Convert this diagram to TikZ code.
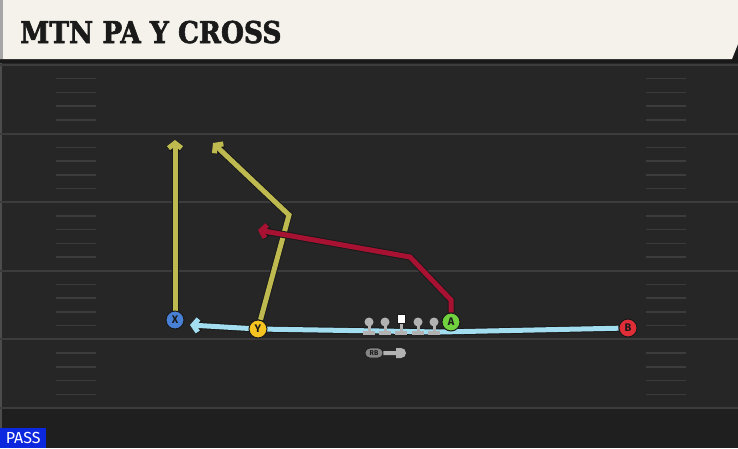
\documentclass[tikz,border=0pt]{standalone}
\usepackage{fontspec}
\usetikzlibrary{arrows.meta,shapes.misc}
\newfontfamily\titlefont{DejaVu Serif}[FakeBold=2, FakeStretch=0.88]
\newfontfamily\labelfont{Fira Sans}

\definecolor{fieldgrey}{RGB}{38,38,38}
\definecolor{linegrey}{RGB}{60,60,60}
\definecolor{barcream}{RGB}{245,242,235}
\definecolor{inkblack}{RGB}{26,26,26}
\definecolor{passblue}{RGB}{12,40,222}
\definecolor{routeyellow}{RGB}{190,186,80}
\definecolor{routered}{RGB}{168,18,50}
\definecolor{motionblue}{RGB}{162,222,240}
\definecolor{xblue}{RGB}{72,128,214}
\definecolor{yyellow}{RGB}{246,196,32}
\definecolor{agreen}{RGB}{112,210,62}
\definecolor{bred}{RGB}{224,46,56}
\definecolor{olgrey}{RGB}{178,178,178}

\pgfdeclarelayer{field}
\pgfdeclarelayer{routes}
\pgfsetlayers{field,routes,main}

\tikzstyle{player}=[circle, draw=inkblack, line width=1pt, minimum size=18pt, inner sep=0pt, font=\labelfont\bfseries\fontsize{11}{11}\selectfont, text=inkblack]
\tikzstyle{route}=[line width=5pt, -{Straight Barb[length=5pt,width=13pt]}, preaction={draw=inkblack, line width=7pt}]
\tikzstyle{hash}=[draw=linegrey, line width=1.5pt]
\tikzstyle{yard}=[draw=linegrey, line width=2pt]

\begin{document}
\begin{tikzpicture}[x=1pt, y=-1pt]
	\useasboundingbox (0,0) rectangle (738,448);

	% field and title bar
	\begin{pgfonlayer}{field}
		\fill[fieldgrey] (0,59) rectangle (738,448);
		\fill[black!88] (0,408) rectangle (738,448);
		\fill[black!70] (0,59) rectangle (2,448);
		\foreach \k in {0,...,5}
			\draw[yard] (0,65+68.6*\k) -- (738,65+68.6*\k);
		\foreach \k in {0,...,4}
			\foreach \j in {1,...,4} {
				\draw[hash] (56,65+68.6*\k+13.72*\j) -- (96,65+68.6*\k+13.72*\j);
				\draw[hash] (646,65+68.6*\k+13.72*\j) -- (686,65+68.6*\k+13.72*\j);
			}
		\fill[black!90] (0,58) rectangle (738,63);
		\fill[black!90] (700,36) rectangle (738,63);
		\fill[barcream] (0,0) -- (738,0) -- (738,44) -- (732,59) -- (0,59) -- cycle;
		\fill[black!35] (0,0) rectangle (3,59);
	\end{pgfonlayer}

	\node [anchor=base west, inner sep=0pt, text=inkblack, font=\titlefont\bfseries\fontsize{30}{30}\selectfont] (title) at (20,43) {MTN PA Y CROSS};
	\node [anchor=south west, fill=passblue, text=white, inner sep=0pt, minimum width=46pt, minimum height=20pt, font=\labelfont\fontsize{16}{16}\selectfont] (pass) at (0,448) {PASS};

	% players
	\node [player, fill=xblue] (x) at (175,320) {X};
	\node [player, fill=yyellow] (y) at (258,329) {Y};
	\node [player, fill=agreen] (a) at (451,322) {A};
	\node [player, fill=bred] (b) at (628,328) {B};

	% line
	\foreach \i in {369,385,418,434} {
		\fill[olgrey] (\i-1.5,322) rectangle (\i+1.5,333);
		\fill[olgrey] (\i-6,331) rectangle (\i+6,334.5);
		\fill[olgrey] (\i,322) circle (4.5);
	}
	\fill[olgrey] (399.5,322) rectangle (402.5,333);
	\fill[olgrey] (395,331) rectangle (407,334.5);
	\node [fill=white, draw=inkblack, line width=0.5pt, minimum size=8.5pt, inner sep=0pt] (c) at (401,318.5) {};

	% back
	\node [rounded rectangle, fill=olgrey!75!black, draw=inkblack, line width=0.6pt, minimum width=18pt, minimum height=10pt, inner sep=0pt, font=\labelfont\bfseries\fontsize{7}{7}\selectfont, text=inkblack] (rb) at (374,353) {RB};
	\node [rounded rectangle, rounded rectangle west arc=none, fill=olgrey, minimum width=7pt, minimum height=10pt, inner sep=0pt] (rbh) at (401,353) {};
	\draw[olgrey, line width=4pt] (rb) -- (rbh);

	% routes
	\begin{pgfonlayer}{routes}
		\coordinate (x1) at (175,140);
		\coordinate (y1) at (289,215);
		\coordinate (y2) at (213,143);
		\coordinate (a1) at (451,300);
		\coordinate (a2) at (410,257);
		\coordinate (a3) at (258,230);
		\coordinate (m1) at (440,332);
		\coordinate (m2) at (190,325);

		\draw[route, routeyellow] (x) -- (x1);
		\draw[route, routeyellow] (y) -- (y1) -- (y2);
		\draw[route, routered] (a) -- (a1) -- (a2) -- (a3);
		\draw[route, motionblue] (b) -- (m1) -- (y.center) -- (m2);
	\end{pgfonlayer}
\end{tikzpicture}
\end{document}
